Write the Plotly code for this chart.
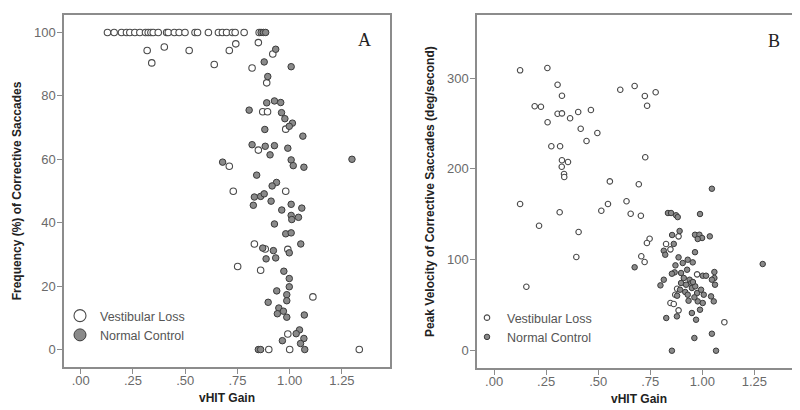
import plotly.graph_objects as go

# ---------------- Panel A: Frequency (%) of corrective saccades ----------------
a_vl_gain = [0.128, 0.160, 0.195, 0.219, 0.235, 0.259, 0.283, 0.310, 0.323, 0.336, 0.347,
             0.371, 0.411, 0.419, 0.448, 0.471, 0.499, 0.547, 0.559, 0.611, 0.659, 0.678,
             0.698, 0.726, 0.739, 0.782, 0.854,
             0.318, 0.340, 0.400, 0.519, 0.639, 0.711, 0.742, 0.850, 0.820, 0.919, 0.890,
             0.871, 0.894, 0.981, 0.850, 0.711, 0.730, 0.981, 0.831, 0.883, 0.991, 0.751,
             0.861, 1.111, 0.991, 0.900, 1.000, 1.333]
a_vl_freq = [100, 100, 100, 100, 100, 100, 100, 100, 100, 100, 100,
             100, 100, 100, 100, 100, 100, 100, 100, 100, 100, 100,
             100, 100, 100, 100, 100,
             94.3, 90.4, 95.4, 94.3, 89.9, 94.3, 96.4, 96.8, 88.8, 93.2, 84.1,
             75.0, 75.0, 69.5, 62.9, 57.8, 49.9, 49.9, 33.3, 31.7, 31.6, 26.2,
             25.0, 16.6, 4.9, 0, 0, 0]

a_nc_gain = [0.863, 0.874, 0.885,
             0.878, 0.933, 1.007, 0.895, 0.890, 0.927, 0.957, 0.806, 0.961, 0.977, 1.013,
             0.998, 0.881, 1.063, 0.820, 0.883, 0.927, 0.906, 0.991, 1.007, 1.017, 1.068,
             1.298, 0.679, 0.842, 0.937, 0.916, 0.831, 0.861, 0.878, 0.826, 0.911, 0.962,
             1.007, 1.058, 1.007, 1.042, 1.010, 0.927, 0.981, 1.007, 1.053, 0.871, 0.922,
             0.998, 0.887, 0.933, 0.972, 0.998, 0.998, 0.938, 0.986, 0.986, 0.897, 0.948,
             0.970, 0.941, 0.986, 1.070, 1.047, 1.031, 1.068, 0.965, 1.052, 0.850, 0.861,
             1.072]
a_nc_freq = [100, 100, 100,
             90.7, 94.7, 89.2, 86.1, 77.8, 78.4, 77.9, 75.5, 74.7, 72.8, 71.4,
             70.4, 69.4, 67.3, 64.6, 64.1, 64.3, 61.4, 63.5, 59.8, 58.0, 57.5,
             60.0, 59.1, 55.0, 52.7, 51.6, 48.1, 48.3, 49.1, 45.5, 46.8, 44.0,
             45.8, 44.6, 42.3, 41.7, 41.0, 39.6, 36.5, 36.8, 33.3, 32.0, 31.2,
             30.5, 28.6, 28.9, 24.7, 22.4, 19.8, 18.5, 17.3, 15.4, 14.9, 13.1,
             12.1, 11.3, 10.2, 10.9, 6.2, 5.0, 3.5, 2.8, 1.9, 0, 0,
             0]

# ---------------- Panel B: Peak velocity of corrective saccades ----------------
b_vl_gain = [0.125, 0.256, 0.305, 0.326, 0.195, 0.225, 0.305, 0.326, 0.257, 0.365, 0.404,
             0.465, 0.416, 0.496, 0.444, 0.275, 0.317, 0.326, 0.355, 0.325, 0.336, 0.337,
             0.606, 0.675, 0.724, 0.776, 0.735, 0.726, 0.556, 0.695, 0.125, 0.315, 0.515,
             0.547, 0.636, 0.656, 0.705, 0.216, 0.406, 0.395, 0.155, 0.747, 0.734, 0.707,
             0.723, 0.826, 0.847, 0.886, 0.975, 0.879, 0.870, 0.847, 0.863, 0.886, 1.106]
b_vl_vel = [308.5, 311.0, 292.6, 280.5, 268.9, 268.4, 260.7, 261.1, 251.3, 255.7, 262.6,
            264.8, 244.2, 239.5, 230.7, 224.9, 224.9, 209.5, 207.6, 202.4, 194.4, 191.1,
            287.1, 291.2, 280.2, 284.3, 269.5, 212.8, 186.3, 183.1, 161.4, 152.3, 154.0,
            161.4, 164.4, 150.7, 148.5, 137.5, 130.6, 103.1, 70.4, 123.2, 118.5, 103.9,
            97.6, 117.4, 111.5, 125.8, 84.0, 68.2, 61.6, 52.5, 51.4, 44.4, 31.4]

b_nc_gain = [1.046, 0.835, 0.850, 0.874, 0.882, 0.989, 0.675, 0.815, 0.822, 0.855, 0.863,
             0.891, 0.965, 0.986, 0.999, 1.036, 0.978, 0.965, 0.886, 0.930, 0.954, 0.906,
             0.871, 0.867, 0.854, 0.898, 0.927, 0.911, 0.939, 0.947, 0.898, 1.002, 1.018,
             1.058, 1.058, 1.061, 1.046, 0.815, 0.799, 0.922, 0.893, 0.918, 0.930, 0.950,
             0.975, 0.994, 1.007, 0.934, 0.978, 1.002, 0.989, 0.962, 1.055, 1.042, 0.827,
             0.878, 0.950, 0.970, 0.962, 1.046, 0.854, 1.066, 1.290, 0.879, 0.966, 0.955]
b_nc_vel = [178.2, 151.5, 151.5, 149.0, 147.0, 150.4, 91.8, 110.0, 105.6, 127.3, 117.5,
            131.7, 127.6, 127.6, 124.0, 125.8, 122.9, 108.4, 102.7, 100.1, 97.2, 96.5,
            93.9, 86.2, 84.7, 85.5, 89.1, 80.0, 78.1, 74.5, 74.5, 82.5, 82.5,
            86.6, 80.0, 72.6, 78.1, 78.1, 71.9, 72.6, 67.1, 64.6, 61.6, 69.0,
            63.5, 67.1, 61.6, 55.0, 54.3, 52.5, 45.1, 58.7, 54.3, 59.8, 36.0,
            37.8, 41.5, 34.1, 14.0, 18.7, 0, 0, 95.4, 60.5, 70.8, 75.6]

x_tickvals = [0, 0.25, 0.5, 0.75, 1.0, 1.25]
x_ticktext = [".00", ".25", ".50", ".75", "1.00", "1.25"]
a_yticks = [0, 20, 40, 60, 80, 100]
b_yticks = [0, 100, 200, 300]

series_names = ["Vestibular Loss", "Normal Control"]

# ---------------- styles ----------------
FONT = "Arial, Liberation Sans, sans-serif"
OPEN_FILL = "white"
OPEN_LINE = "#4a4a4a"
FILL = "#8a8a8a"
FILL_LINE = "#3a3a3a"
FRAME = "#8c8c8c"
TICKTXT = "#6a6a6a"

fig = go.Figure()

# Panel A
fig.add_trace(go.Scatter(x=a_vl_gain, y=a_vl_freq, mode="markers", name=series_names[0],
                         xaxis="x", yaxis="y", showlegend=False,
                         marker=dict(size=6.5, color=OPEN_FILL, line=dict(color=OPEN_LINE, width=1.1))))
fig.add_trace(go.Scatter(x=a_nc_gain, y=a_nc_freq, mode="markers", name=series_names[1],
                         xaxis="x", yaxis="y", showlegend=False,
                         marker=dict(size=6.5, color=FILL, line=dict(color=FILL_LINE, width=1))))
# Panel A legend entries (larger symbols, as in the original)
fig.add_trace(go.Scatter(x=[None], y=[None], mode="markers", name=series_names[0],
                         xaxis="x", yaxis="y", legend="legend",
                         marker=dict(size=12, color=OPEN_FILL, line=dict(color=OPEN_LINE, width=1.1))))
fig.add_trace(go.Scatter(x=[None], y=[None], mode="markers", name=series_names[1],
                         xaxis="x", yaxis="y", legend="legend",
                         marker=dict(size=12, color=FILL, line=dict(color=FILL_LINE, width=1))))

# Panel B
fig.add_trace(go.Scatter(x=b_vl_gain, y=b_vl_vel, mode="markers", name=series_names[0],
                         xaxis="x2", yaxis="y2", legend="legend2",
                         marker=dict(size=5.5, color=OPEN_FILL, line=dict(color=OPEN_LINE, width=1.1))))
fig.add_trace(go.Scatter(x=b_nc_gain, y=b_nc_vel, mode="markers", name=series_names[1],
                         xaxis="x2", yaxis="y2", legend="legend2",
                         marker=dict(size=5.5, color=FILL, line=dict(color=FILL_LINE, width=1))))

axis_common = dict(showline=True, linecolor=FRAME, linewidth=1.5, mirror=True,
                   ticks="outside", ticklen=5, tickcolor=FRAME, tickwidth=1,
                   showgrid=False, zeroline=False,
                   tickfont=dict(family=FONT, size=13, color=TICKTXT))
title_font = dict(family=FONT, size=12, color="#222222")

fig.update_layout(
    width=800, height=410,
    margin=dict(l=0, r=0, t=0, b=0),
    paper_bgcolor="white", plot_bgcolor="white",
    font=dict(family=FONT),
    xaxis=dict(domain=[56 / 800, 382 / 800], range=[-0.08, 1.48],
               tickvals=x_tickvals, ticktext=x_ticktext, ticklabelstandoff=-4,
               title=dict(text="<b>vHIT Gain</b>", font=title_font, standoff=6),
               anchor="y", **axis_common),
    yaxis=dict(domain=[1 - 359 / 410, 1 - 7 / 410], range=[-5.5, 105.5],
               tickvals=a_yticks, ticklabelstandoff=-1,
               title=dict(text="<b>Frequency (%) of Corrective Saccades</b>", font=title_font, standoff=10),
               anchor="x", **axis_common),
    xaxis2=dict(domain=[469 / 800, 793 / 800], range=[-0.082, 1.474],
                tickvals=x_tickvals, ticktext=x_ticktext, ticklabelstandoff=-4,
                title=dict(text="<b>vHIT Gain</b>", font=title_font, standoff=6),
                anchor="y2", **axis_common),
    yaxis2=dict(domain=[1 - 360 / 410, 1 - 7.3 / 410], range=[-19, 369],
                tickvals=b_yticks, ticklabelstandoff=-1,
                title=dict(text="<b>Peak Velocity of Corrective Saccades (deg/second)</b>",
                           font=title_font, standoff=10),
                anchor="x2", **axis_common),
    legend=dict(x=52 / 800, y=1 - 293 / 410, xanchor="left", yanchor="top",
                bgcolor="rgba(0,0,0,0)", borderwidth=0, tracegroupgap=0,
                itemsizing="trace",
                font=dict(family=FONT, size=12.5, color="#555555")),
    legend2=dict(x=459 / 800, y=1 - 295 / 410, xanchor="left", yanchor="top",
                 bgcolor="rgba(0,0,0,0)", borderwidth=0, tracegroupgap=0,
                 itemsizing="trace",
                 font=dict(family=FONT, size=12.5, color="#555555")),
    annotations=[
        dict(text="A", x=356.7 / 800, y=1 - 32.3 / 410, xref="paper", yref="paper",
             showarrow=False, xanchor="center", yanchor="middle",
             font=dict(family="Liberation Serif, Times New Roman, serif", size=18, color="#222222")),
        dict(text="B", x=765.7 / 800, y=1 - 33.3 / 410, xref="paper", yref="paper",
             showarrow=False, xanchor="center", yanchor="middle",
             font=dict(family="Liberation Serif, Times New Roman, serif", size=18, color="#222222")),
    ],
)

fig.write_html("out.html")
